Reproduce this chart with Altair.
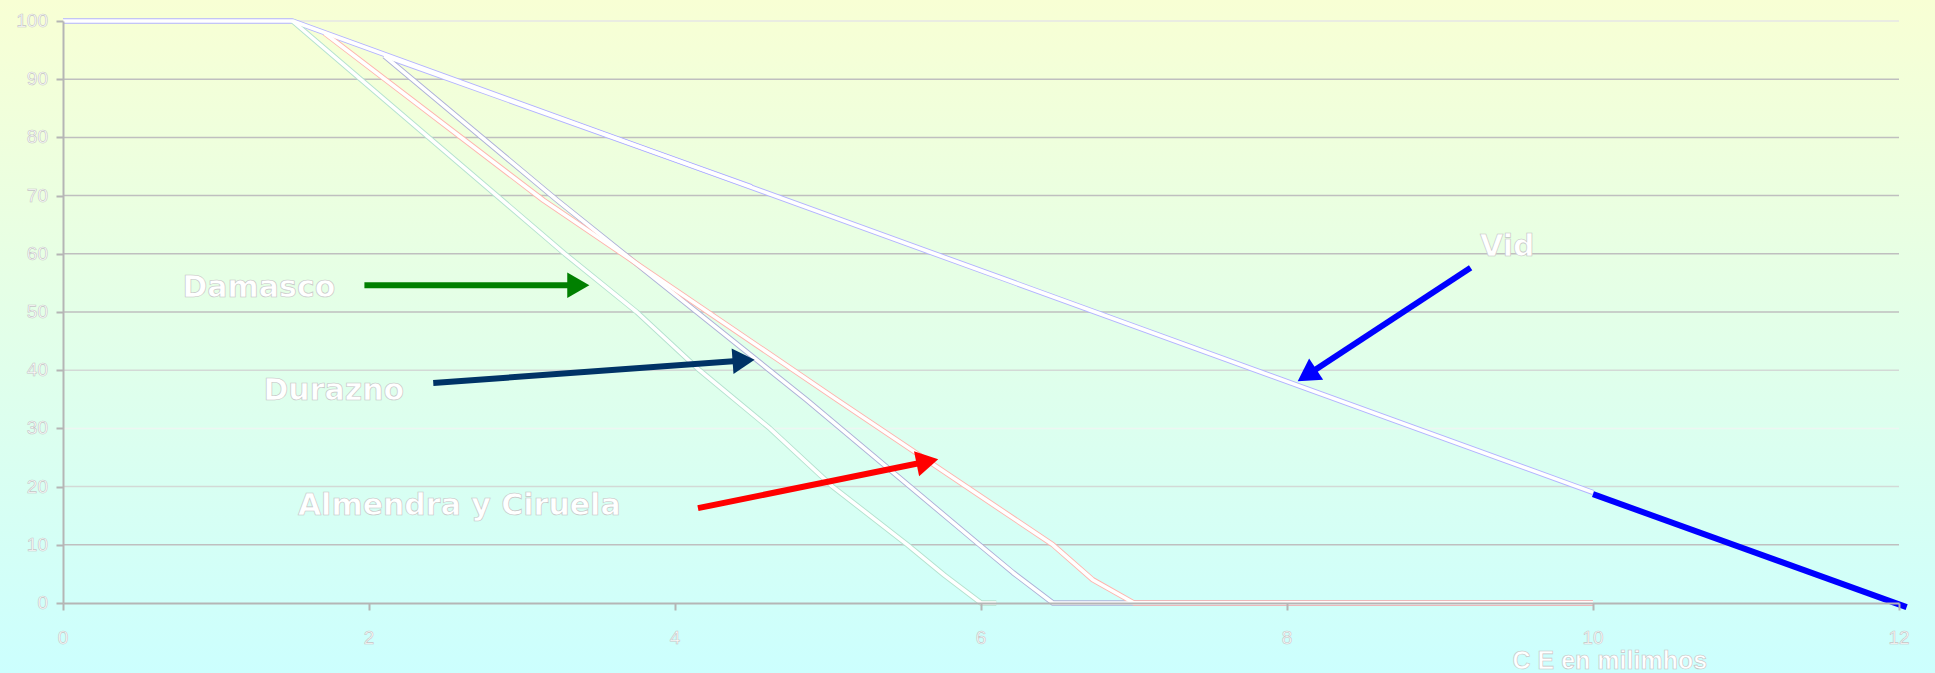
import math
import altair as alt
import pandas as pd

# ---------------- data ----------------
X_TICKS = [0, 2, 4, 6, 8, 10, 12]
Y_TICKS = [0, 10, 20, 30, 40, 50, 60, 70, 80, 90, 100]
GRID_Y = [10, 20, 30, 40, 50, 60, 70, 80, 90, 100]

VID_X = [0, 1.5, 10]
VID_Y = [100, 100, 19]
VID2_X = [2.1, 4.5]
VID2_Y = [94, 71.5]
DAMASCO_X = [1.5, 3.28, 3.75, 4.16, 4.62, 5.03, 5.52, 5.76, 6.0, 6.1]
DAMASCO_Y = [100, 60, 50, 40, 30, 20, 10, 4.8, 0, 0]
DURAZNO_X = [2.1, 3.23, 4.86, 5.99, 6.21, 6.47, 10]
DURAZNO_Y = [94, 69.2, 34.9, 10, 5.2, 0, 0]
ALMENDRA_X = [1.71, 3.14, 5.06, 6.47, 6.73, 7.0, 10]
ALMENDRA_Y = [97.9, 69.2, 34.9, 10, 4.0, 0, 0]

VID_EXT_X = [10, 12.05]
VID_EXT_Y = [18.7, -0.7]

LABELS = ["Damasco", "Durazno", "Almendra y Ciruela", "Vid"]
LABEL_X = [1.28, 1.77, 2.59, 9.44]
LABEL_Y = [54.1, 36.4, 16.7, 61.2]

ARROW_NAMES = ["Damasco", "Durazno", "Almendra y Ciruela", "Vid"]
ARROW_X0 = [1.97, 2.42, 4.15, 9.20]
ARROW_Y0 = [54.6, 37.8, 16.3, 57.6]
ARROW_X1 = [3.44, 4.52, 5.72, 8.07]
ARROW_Y1 = [54.6, 41.8, 24.7, 38.1]

X_TITLE = "C E en milimhos"
X_TITLE_POS = (10.11, -9.9)

# ---------------- layout ----------------
W, H = 1836, 582
PX = W / 12.0
PY = H / 100.0
FONT = "Liberation Sans"
LABEL_FONT = "DejaVu Sans"

series = [
    ("Vid", VID_X, VID_Y),
    ("Vid2", VID2_X, VID2_Y),
    ("Damasco", DAMASCO_X, DAMASCO_Y),
    ("Durazno", DURAZNO_X, DURAZNO_Y),
    ("Almendra", ALMENDRA_X, ALMENDRA_Y),
]
rows = []
for name, xs, ys in series:
    for i, (a, b) in enumerate(zip(xs, ys)):
        rows.append({"s": name, "x": a, "y": b, "o": i})
lines_df = pd.DataFrame(rows)

ext_df = pd.DataFrame({"x": VID_EXT_X, "y": VID_EXT_Y, "o": list(range(len(VID_EXT_X)))})

# arrows: shaft end + head centre derived from tip
HEAD = 11.0  # half height of triangle in px
arows = []
for n, x0, y0, x1, y1 in zip(ARROW_NAMES, ARROW_X0, ARROW_Y0, ARROW_X1, ARROW_Y1):
    dxp = (x1 - x0) * PX
    dyp = (y1 - y0) * PY
    L = math.hypot(dxp, dyp)
    ux, uy = dxp / L, dyp / L
    cx = x1 - ux * HEAD / PX
    cy = y1 - uy * HEAD / PY
    ang = math.degrees(math.atan2(dxp, dyp)) % 360
    arows.append({"n": n, "x": x0, "y": y0, "x2": cx, "y2": cy, "hx": cx, "hy": cy, "ang": ang})
arrows_df = pd.DataFrame(arows)

labels_df = pd.DataFrame({"t": LABELS, "x": LABEL_X, "y": LABEL_Y})
xt_df = pd.DataFrame({"v": X_TICKS, "t": [str(v) for v in X_TICKS]})
yt_df = pd.DataFrame({"v": Y_TICKS, "t": [str(v) for v in Y_TICKS]})
grid_df = pd.DataFrame({"g": GRID_Y})
title_df = pd.DataFrame({"t": [X_TITLE], "x": [X_TITLE_POS[0]], "y": [X_TITLE_POS[1]]})

xscale = alt.Scale(domain=[0, 12], nice=False, zero=False)
yscale = alt.Scale(domain=[0, 100], nice=False, zero=False)
AX_COL = "#b5b5b5"
xaxis = alt.Axis(values=X_TICKS, labels=False, title=None, grid=False, domainColor=AX_COL,
                 domainWidth=2, tickColor=AX_COL, tickWidth=2, tickSize=7, zindex=1)
yaxis = alt.Axis(values=Y_TICKS, labels=False, title=None, grid=False, domainColor=AX_COL,
                 domainWidth=2, tickColor=AX_COL, tickWidth=2, tickSize=7, zindex=1)


def X(f):
    return alt.X(f, type="quantitative", scale=xscale, axis=xaxis)


def Y(f):
    return alt.Y(f, type="quantitative", scale=yscale, axis=yaxis)


bg = alt.Chart(pd.DataFrame({"a": [0]})).mark_rect(
    color=alt.Gradient(gradient="linear", x1=0, x2=0, y1=0, y2=1,
                       stops=[alt.GradientStop(offset=0, color="#f8ffd4"),
                              alt.GradientStop(offset=1, color="#ccfffe")])
).encode(x=alt.value(-63), x2=alt.value(W + 36), y=alt.value(-21), y2=alt.value(H + 70))

grid = alt.Chart(grid_df).mark_rule(strokeWidth=1.5).encode(
    x=alt.value(0), x2=alt.value(W), y=Y("g"),
    color=alt.when(alt.datum.g == 30).then(alt.value("#eef6f2"))
    .when((alt.datum.g == 20) | (alt.datum.g == 40)).then(alt.value("#d3d9d6"))
    .when(alt.datum.g == 100).then(alt.value("#e6e6e6"))
    .otherwise(alt.value("#bfbfbf")),
)

edge = alt.Chart(lines_df).mark_line(strokeWidth=5.4, strokeJoin="round").encode(
    x=X("x"), y=Y("y"), order="o:Q",
    stroke=alt.Stroke("s:N", legend=None,
                      scale=alt.Scale(domain=["Vid", "Vid2", "Damasco", "Durazno", "Almendra"],
                                      range=["#b3b3ff", "#b3b3ff", "#b4e2cf", "#adb1d8", "#ffb4ad"])),
)
core = alt.Chart(lines_df).mark_line(strokeWidth=3.6, color="white", strokeJoin="round").encode(
    x=X("x"), y=Y("y"), order="o:Q", detail="s:N"
)

ext = alt.Chart(ext_df).mark_line(strokeWidth=6, color="#0000ff", clip=False).encode(
    x=X("x"), y=Y("y"), order="o:Q"
)

acolor = alt.Color("n:N", legend=None,
                   scale=alt.Scale(domain=ARROW_NAMES,
                                   range=["#008000", "#003366", "#ff0000", "#0000ff"]))
shaft = alt.Chart(arrows_df).mark_rule(strokeWidth=6).encode(
    x=X("x"), y=Y("y"), x2="x2:Q", y2="y2:Q", color=acolor
)
head = alt.Chart(arrows_df).mark_point(shape="triangle-up", filled=True, size=650, opacity=1).encode(
    x=X("hx"), y=Y("hy"), angle=alt.Angle("ang:Q", scale=None), color=acolor
)

OUTLINE = dict(fill="white", stroke="#c4c4c4", strokeWidth=0.6)
labels = alt.Chart(labels_df).mark_text(fontSize=30, fontWeight="bold", align="center",
                                         baseline="middle", font=LABEL_FONT, **OUTLINE).encode(
    x=X("x"), y=Y("y"), text="t:N"
)
xticks = alt.Chart(xt_df).mark_text(fontSize=19, align="center", baseline="middle",
                                     font=FONT, **OUTLINE).encode(
    x=X("v"), y=alt.value(H + 35), text="t:N"
)
yticks = alt.Chart(yt_df).mark_text(fontSize=19, align="right", baseline="middle",
                                     font=FONT, **OUTLINE).encode(
    x=alt.value(-15), y=Y("v"), text="t:N"
)
xtitle = alt.Chart(title_df).mark_text(fontSize=25, fontWeight="bold", align="center",
                                        baseline="middle", font=FONT, **OUTLINE).encode(
    x=X("x"), y=Y("y"), text="t:N"
)

chart = alt.layer(bg, grid, edge, core, ext, shaft, head, labels, xticks, yticks, xtitle).properties(
    width=W, height=H,
    autosize=alt.AutoSizeParams(type="none"),
    padding={"left": 63, "top": 21, "right": 36, "bottom": 70},
    background="#ccfffe",
).configure_view(stroke=None)

chart.save("out.html", embed_options={"renderer": "svg", "actions": False})
